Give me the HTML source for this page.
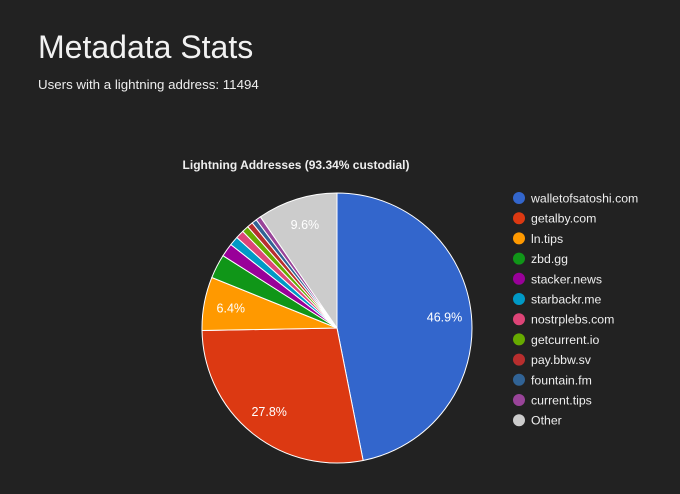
<!DOCTYPE html>
<html><head><meta charset="utf-8"><style>
body{margin:0;width:680px;height:494px;background:#222;overflow:hidden;font-family:"Liberation Sans",sans-serif;color:#eee}
h1{position:absolute;left:38px;top:29px;margin:0;font-weight:normal;font-size:32px;color:#f2f2f2}
.sub{position:absolute;left:38px;top:77px;font-size:13.3px;color:#eee}
</style></head><body>
<h1>Metadata Stats</h1>
<div class="sub">Users with a lightning address: 11494</div>
<svg id="s" width="680" height="494" style="position:absolute;left:0;top:0" font-family="Liberation Sans, sans-serif">
<text x="296" y="169" text-anchor="middle" font-size="12" font-weight="bold" fill="#eee">Lightning Addresses (93.34% custodial)</text>
</svg>
<script>
var d=[["walletofsatoshi.com",46.9,"#3366cc"],["getalby.com",27.8,"#dc3912"],["ln.tips",6.4,"#ff9900"],["zbd.gg",2.9,"#109618"],["stacker.news",1.6,"#990099"],["starbackr.me",1.1,"#0099c6"],["nostrplebs.com",1.0,"#dd4477"],["getcurrent.io",0.8,"#66aa00"],["pay.bbw.sv",0.7,"#b82e2e"],["fountain.fm",0.6,"#316395"],["current.tips",0.6,"#994499"],["Other",9.6,"#cccccc"]];
var s=document.getElementById('s'),cx=337,cy=328,r=135,a=0,h='';
d.forEach(function(e,i){var a2=a+e[1]/100*2*Math.PI;
var x1=cx+r*Math.sin(a),y1=cy-r*Math.cos(a),x2=cx+r*Math.sin(a2),y2=cy-r*Math.cos(a2);
h+='<path d="M'+cx+','+cy+'L'+x1+','+y1+'A'+r+','+r+' 0 '+(a2-a>Math.PI?1:0)+' 1 '+x2+','+y2+'Z" fill="'+e[2]+'" stroke="#fff" stroke-width="1"/>';
if(e[1]>5){var m=(a+a2)/2,lr=r*0.8;h+='<text x="'+(cx+lr*Math.sin(m))+'" y="'+(cy-lr*Math.cos(m)+4)+'" text-anchor="middle" font-size="12.5" fill="#fff">'+e[1].toFixed(1)+'%</text>';}
a=a2;
var ly=198+i*20.2;h+='<circle cx="519" cy="'+ly+'" r="6" fill="'+e[2]+'"/><text x="531" y="'+(ly+4.5)+'" font-size="12.3" fill="#eee">'+e[0]+'</text>';});
s.insertAdjacentHTML('beforeend',h);
</script>
</body></html>
